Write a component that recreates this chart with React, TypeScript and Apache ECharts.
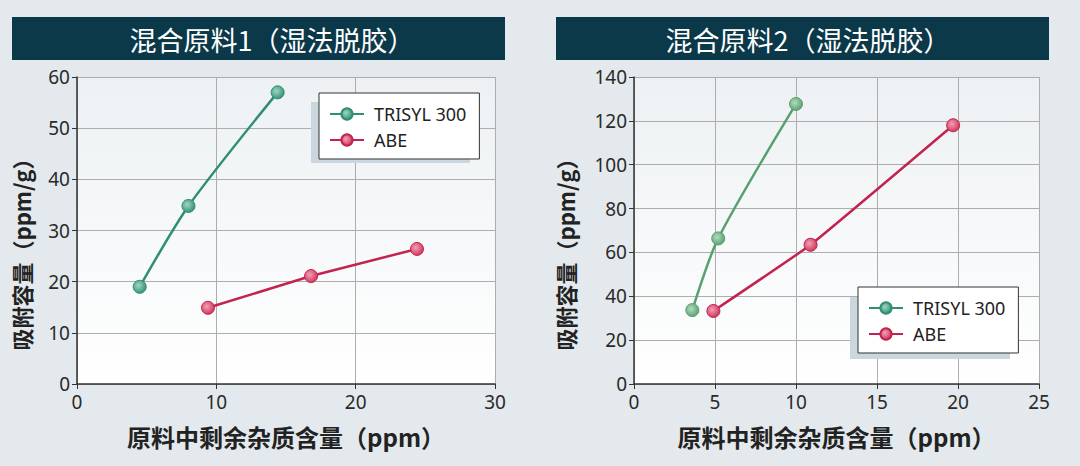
import { useEffect, useRef } from 'react';
import * as echarts from 'echarts';

const panelTitles = ['混合原料1（湿法脱胶）', '混合原料2（湿法脱胶）'];
const yName = '吸附容量（ppm/g）';
const xName = '原料中剩余杂质含量（ppm）';
const seriesNames = ['TRISYL 300', 'ABE'];

// panel 1
const trisylX1 = [4.5, 8.0, 14.4];
const trisylY1 = [19.0, 34.8, 57.0];
const abeX1 = [9.4, 16.8, 24.4];
const abeY1 = [14.9, 21.1, 26.4];

// panel 2
const trisylX2 = [3.6, 5.2, 10.0];
const trisylY2 = [33.7, 66.4, 127.7];
const abeX2 = [4.9, 10.9, 19.7];
const abeY2 = [33.3, 63.5, 118.0];

const FONT = "'Noto Sans', 'Noto Sans CJK SC', sans-serif";
const CJK = "'Noto Sans CJK SC', sans-serif";

const pairs = (xs: number[], ys: number[]) => xs.map((x, i) => [x, ys[i]]);

const ball = (light: string, dark: string) => ({
  type: 'radial',
  x: 0.4,
  y: 0.4,
  r: 0.6,
  colorStops: [
    { offset: 0, color: light },
    { offset: 1, color: dark },
  ],
});

const plotBg = {
  type: 'linear',
  x: 0,
  y: 0,
  x2: 0,
  y2: 1,
  colorStops: [
    { offset: 0, color: '#edf1f3' },
    { offset: 1, color: '#ffffff' },
  ],
};

function axisPair(idx: number, xMax: number, xInt: number, yMax: number, yInt: number) {
  const x = {
    type: 'value',
    gridIndex: idx,
    min: 0,
    max: xMax,
    interval: xInt,
    name: xName,
    nameLocation: 'middle',
    nameGap: 40,
    nameTextStyle: { fontFamily: CJK, fontSize: 24, fontWeight: 'bold', color: '#222' },
    axisLine: { lineStyle: { color: '#333', width: 1.5 } },
    axisTick: { show: true, length: 5, lineStyle: { color: '#333' } },
    axisLabel: { fontFamily: FONT, fontSize: 19, color: '#2a2a2a', margin: 8 },
    splitLine: { show: true, lineStyle: { color: '#adadad', width: 1 } },
  };
  const y = {
    type: 'value',
    gridIndex: idx,
    min: 0,
    max: yMax,
    interval: yInt,
    axisLine: { show: true, lineStyle: { color: '#333', width: 1.5 } },
    axisTick: { show: true, length: 5, lineStyle: { color: '#333' } },
    axisLabel: { fontFamily: FONT, fontSize: 19, color: '#2a2a2a', margin: 7 },
    splitLine: { show: true, lineStyle: { color: '#adadad', width: 1 } },
  };
  return { x, y };
}

export default function App() {
  const ref = useRef<HTMLDivElement>(null);

  useEffect(() => {
    if (!ref.current) return;
    const chart = echarts.init(ref.current, undefined, { renderer: 'svg' });

    const a1 = axisPair(0, 30, 10, 60, 10);
    const a2 = axisPair(1, 25, 5, 140, 20);

    const greenL = { line: '#2e8f74', light: '#9fd6c2', dark: '#3a9479' };
    const greenR = { line: '#5a9f70', light: '#b2dcbc', dark: '#5fa275' };
    const red = { line: '#c3234f', light: '#f3a0b4', dark: '#cf3a60' };

    const mk = (
      name: string,
      idx: number,
      data: number[][],
      c: { line: string; light: string; dark: string },
      smooth: number | boolean
    ) => ({
      type: 'line',
      name,
      xAxisIndex: idx,
      yAxisIndex: idx,
      data,
      smooth,
      symbol: 'circle',
      symbolSize: 13,
      lineStyle: { color: c.line, width: 2.5 },
      itemStyle: { color: ball(c.light, c.dark), borderColor: c.line, borderWidth: 1 },
      z: 5,
    });

    const legendBase = {
      orient: 'vertical',
      backgroundColor: '#ffffff',
      borderColor: '#333',
      borderWidth: 1,
      padding: [12, 13, 10, 10],
      itemWidth: 34,
      itemHeight: 14,
      itemGap: 8,
      textStyle: { fontFamily: FONT, fontSize: 18, color: '#222', padding: [0, 0, 0, 5] },
      data: seriesNames,
      z: 6,
    };

    const titleBar = (x: number, cx: number, text: string) => [
      {
        type: 'rect',
        shape: { x, y: 17, width: 493, height: 43 },
        style: { fill: '#0b3949' },
        z: 1,
      },
      {
        type: 'text',
        x: cx,
        y: 39,
        style: {
          text,
          fill: '#ffffff',
          fontFamily: CJK,
          fontSize: 27,
          align: 'center',
          verticalAlign: 'middle',
        },
        z: 2,
      },
    ];

    const yLabel = (cx: number) => ({
      type: 'text',
      x: cx,
      y: 249,
      rotation: Math.PI / 2,
      style: {
        text: yName,
        fill: '#222',
        fontFamily: CJK,
        fontSize: 22,
        fontWeight: 'bold',
        align: 'center',
        verticalAlign: 'middle',
      },
      z: 2,
    });

    chart.setOption({
      animation: false,
      backgroundColor: '#e3e9ec',
      grid: [
        { left: 77, right: 585, top: 77, bottom: 82, show: true, backgroundColor: plotBg, borderWidth: 0 },
        { left: 634, right: 41, top: 77, bottom: 82, show: true, backgroundColor: plotBg, borderWidth: 0 },
      ],
      xAxis: [a1.x, a2.x],
      yAxis: [a1.y, a2.y],
      legend: [
        { ...legendBase, left: 319, top: 93 },
        { ...legendBase, left: 858, top: 287 },
      ],
      graphic: [
        ...titleBar(12, 272, panelTitles[0]),
        ...titleBar(556, 808, panelTitles[1]),
        yLabel(21),
        yLabel(565),
        { type: 'rect', shape: { x: 311, y: 102, width: 159, height: 61 }, style: { fill: '#cad7df' }, z: 3 },
        { type: 'rect', shape: { x: 850, y: 297, width: 160, height: 62 }, style: { fill: '#cad7df' }, z: 3 },
      ],
      series: [
        mk(seriesNames[0], 0, pairs(trisylX1, trisylY1), greenL, 0.25),
        mk(seriesNames[1], 0, pairs(abeX1, abeY1), red, false),
        mk(seriesNames[0], 1, pairs(trisylX2, trisylY2), greenR, 0.25),
        mk(seriesNames[1], 1, pairs(abeX2, abeY2), red, 0.1),
      ],
    });

    return () => chart.dispose();
  }, []);

  return (
    <div
      ref={ref}
      style={{ position: 'fixed', left: 0, top: 0, width: 1080, height: 466 }}
    />
  );
}
